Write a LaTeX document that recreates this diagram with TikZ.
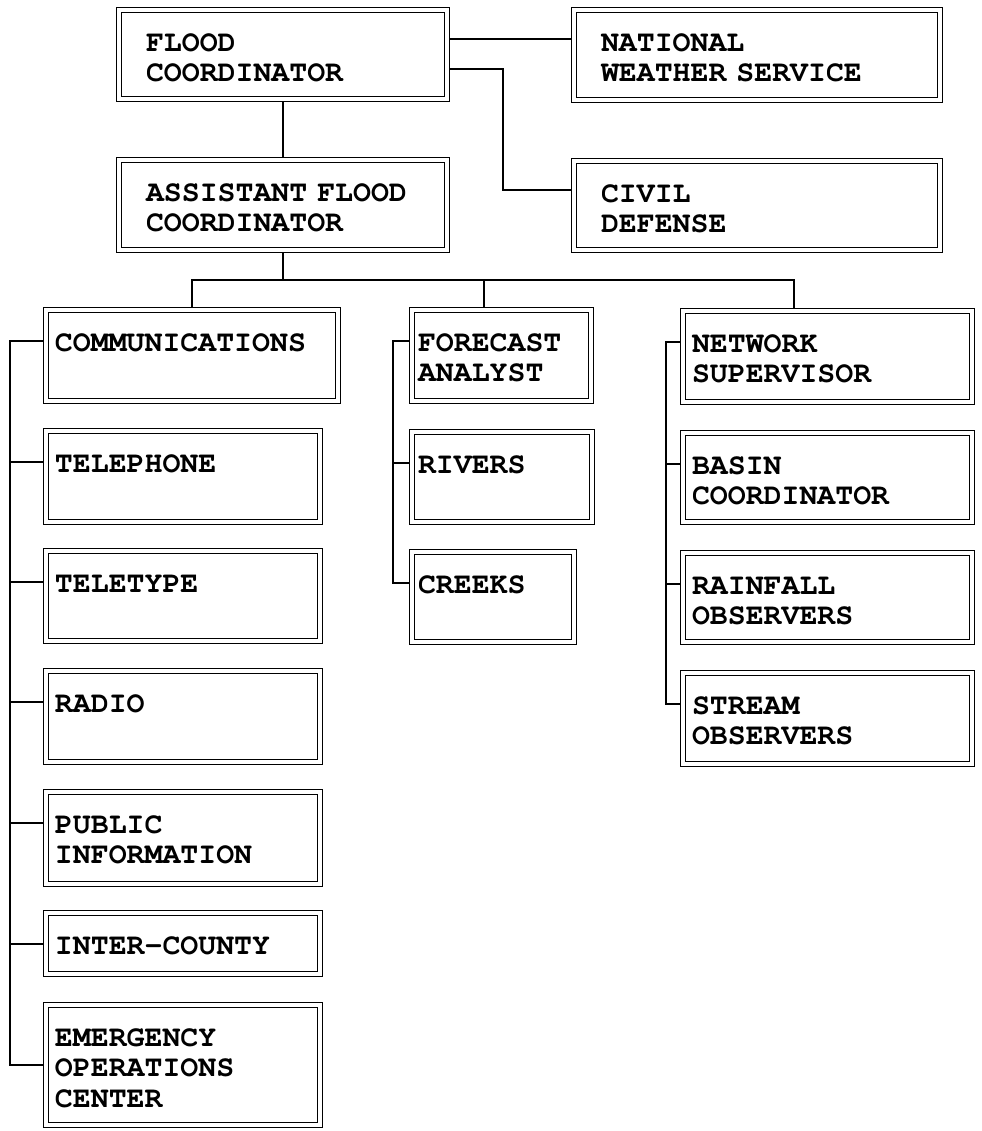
\documentclass[tikz,border=0pt]{standalone}
\usepackage{fontspec}
\setmonofont{texgyrecursor}[Extension=.otf, UprightFont=*-regular, BoldFont=*-bold]
\usetikzlibrary{calc}

\begin{document}
\begin{tikzpicture}[
  orgbox/.style={draw, double, line width=0.7pt, double distance=1.96pt,
    outer sep=0.06cm, inner ysep=0pt, anchor=north west, align=left,
    text height=0.82cm, font=\ttfamily\bfseries\fontsize{17}{17.4}\selectfont},
  topbox/.style={orgbox, inner xsep=0.54cm},
  subbox/.style={orgbox, inner xsep=0.18cm},
  link/.style={line width=0.8pt}]

\useasboundingbox (0,0) rectangle (19.64,-22.62);

\node[topbox, text width=5.48cm, text depth=0.96cm] (fc) at (2.32,-0.14) {FLOOD\\COORDINATOR};
\node[topbox, text width=6.24cm, text depth=0.98cm] (nws) at (11.42,-0.14) {NATIONAL\\WEATHER SERVICE};
\node[topbox, text width=5.48cm, text depth=0.98cm] (afc) at (2.32,-3.14) {ASSISTANT FLOOD\\COORDINATOR};
\node[topbox, text width=6.24cm, text depth=0.96cm] (cd) at (11.42,-3.16) {CIVIL\\DEFENSE};

\node[subbox, text width=5.48cm, text depth=1.00cm] (comm) at (0.86,-6.14) {COMMUNICATIONS};
\node[subbox, text width=5.12cm, text depth=1.00cm] (tel) at (0.86,-8.56) {TELEPHONE};
\node[subbox, text width=5.12cm, text depth=0.98cm] (tty) at (0.86,-10.96) {TELETYPE};
\node[subbox, text width=5.12cm, text depth=1.00cm] (rad) at (0.86,-13.36) {RADIO};
\node[subbox, text width=5.12cm, text depth=1.02cm] (pub) at (0.86,-15.78) {PUBLIC\\INFORMATION};
\node[subbox, text width=5.12cm, text depth=0.40cm] (ic) at (0.86,-18.20) {INTER-COUNTY};
\node[subbox, text width=5.12cm, text depth=1.58cm] (eoc) at (0.86,-20.04) {EMERGENCY\\OPERATIONS\\CENTER};

\node[orgbox, inner xsep=0.12cm, text width=3.34cm, text depth=1.00cm] (fa) at (8.18,-6.14) {FORECAST\\ANALYST};
\node[orgbox, inner xsep=0.12cm, text width=3.36cm, text depth=0.98cm] (riv) at (8.18,-8.58) {RIVERS};
\node[orgbox, inner xsep=0.12cm, text width=3.00cm, text depth=0.98cm] (crk) at (8.18,-10.98) {CREEKS};

\node[subbox, text width=5.42cm, text depth=1.00cm] (ns) at (13.60,-6.16) {NETWORK\\SUPERVISOR};
\node[subbox, text width=5.42cm, text depth=0.96cm] (bas) at (13.60,-8.60) {BASIN\\COORDINATOR};
\node[subbox, text width=5.42cm, text depth=0.96cm] (rain) at (13.60,-11.00) {RAINFALL\\OBSERVERS};
\node[subbox, text width=5.42cm, text depth=1.00cm] (str) at (13.60,-13.40) {STREAM\\OBSERVERS};

\draw[link] ([yshift=0.31cm]fc.east) -- ([yshift=0.31cm]fc.east -| nws.west);
\draw[link] ([yshift=-0.29cm]fc.east) -- ++(1.06,0) |- ([yshift=0.31cm]cd.west);
\draw[link] (fc.south) -- (afc.north);

\draw[link] (afc.south) -- ++(0,-0.54) coordinate (bus);
\draw[link] (comm.north) -- (comm.north |- bus) -- ([xshift=-0.67cm]ns.north |- bus) -- ([xshift=-0.67cm]ns.north);
\draw[link] ([xshift=-0.35cm]fa.north) -- ([xshift=-0.35cm]fa.north |- bus);

\draw[link] ([yshift=-0.68cm]comm.north west) -- ++(-0.66,0) |- (eoc.west);
\foreach \n in {tel,tty,rad,pub,ic}
  \draw[link] ([yshift=-0.68cm]\n.north west) -- +(-0.66,0);

\draw[link] ([yshift=-0.68cm]fa.north west) -- ++(-0.32,0) |- ([yshift=-0.68cm]crk.north west);
\draw[link] ([yshift=-0.68cm]riv.north west) -- +(-0.32,0);

\draw[link] ([yshift=-0.68cm]ns.north west) -- ++(-0.28,0) |- ([yshift=-0.68cm]str.north west);
\foreach \n in {bas,rain}
  \draw[link] ([yshift=-0.68cm]\n.north west) -- +(-0.28,0);

\end{tikzpicture}
\end{document}
